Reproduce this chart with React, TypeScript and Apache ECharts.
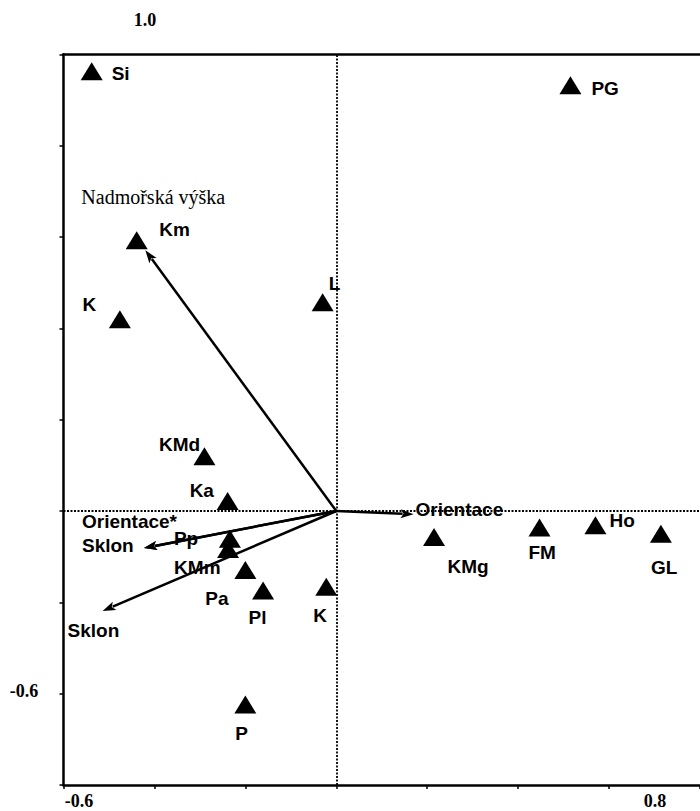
import React, { useEffect, useRef } from "react";
import * as echarts from "echarts";

// Species / site scores (triangles)
const siteNames = ["Si", "PG", "Km", "K", "L", "KMd", "Ka", "Pp", "KMm", "Pa", "Pl", "K", "P", "KMg", "FM", "Ho", "GL"];
const siteX = [-0.538, 0.515, -0.439, -0.476, -0.03, -0.29, -0.239, -0.234, -0.238, -0.2, -0.161, -0.022, -0.2, 0.215, 0.447, 0.57, 0.714];
const siteY = [0.963, 0.932, 0.593, 0.42, 0.457, 0.12, 0.022, -0.061, -0.083, -0.129, -0.174, -0.166, -0.424, -0.057, -0.036, -0.031, -0.05];
// label placement (pixels from the triangle centre to the label's left / middle)
const siteLabelOffsets = [[20, 2], [21, 3], [22.5, -11], [-37.5, -15], [6, -19], [-45.5, -12], [-38, -10], [-56, 0], [-54, 19], [-40, 29], [-14.5, 27.5], [-13, 29], [-10, 29], [13.5, 29], [-11, 25.5], [14, -5], [-10, 34]];

// Environmental variables (arrows from the origin)
const envNames = ["Nadmořská výška", "Orientace", "Orientace*", "Sklon", "Sklon"];
const envX = [-0.42, 0.17, -0.423, -0.423, -0.514];
const envY = [0.571, -0.007, -0.081, -0.081, -0.219];
const envLabelOffsets = [[-64, -53], [2, -5], [-62, -26], [-62, -2], [-35, 19]];
const envLabelSerif = [true, false, false, false, false];

// Axes
const xMin = -0.6, xMax = 0.8, yMin = -0.6, yMax = 1.0, tickStep = 0.2;
const cornerLabels = ["1.0", "-0.6", "-0.6", "0.8"];
const cornerLabelPos = [[145, 20], [24, 691], [79, 801], [655, 801]];

const SANS = '"Liberation Sans", Arial, sans-serif';
const SERIF = '"Liberation Serif", "Times New Roman", serif';

export default function App() {
  const ref = useRef<HTMLDivElement>(null);
  useEffect(() => {
    if (!ref.current) return;
    const chart = echarts.init(ref.current, null, { renderer: "svg" });
    const axisLine = { show: true, onZero: false, lineStyle: { color: "#000", width: 2.5 } };
    const option: any = {
      animation: false,
      backgroundColor: "#fff",
      grid: { left: 63.5, top: 54.3, right: -4.3, bottom: 26 },
      xAxis: [
        {
          type: "value", min: xMin, max: xMax, interval: tickStep, position: "bottom",
          axisLine, axisTick: { show: true, length: 4, lineStyle: { color: "#000", width: 1.5 } },
          axisLabel: { show: false }, splitLine: { show: false },
        },
        {
          type: "value", min: xMin, max: xMax, interval: tickStep, position: "top",
          axisLine, axisTick: { show: false }, axisLabel: { show: false }, splitLine: { show: false },
        },
      ],
      yAxis: [
        {
          type: "value", min: yMin, max: yMax, interval: tickStep, position: "left",
          axisLine, axisTick: { show: true, length: 4, lineStyle: { color: "#000", width: 1.5 } },
          axisLabel: { show: false }, splitLine: { show: false },
        },
      ],
      graphic: cornerLabels.map((t, i) => ({
        type: "text",
        x: cornerLabelPos[i][0],
        y: cornerLabelPos[i][1],
        style: {
          text: t, fill: "#000", align: "center", verticalAlign: "middle",
          font: `bold 18px ${SERIF}`,
        },
      })),
      series: [
        {
          type: "custom",
          coordinateSystem: "cartesian2d",
          z: 2,
          silent: true,
          data: envX.map((x, i) => [x, envY[i]]),
          renderItem: (params: any, api: any) => {
            const i = params.dataIndex;
            const o = api.coord([0, 0]);
            const p = api.coord([api.value(0), api.value(1)]);
            const dx = p[0] - o[0], dy = p[1] - o[1];
            const len = Math.hypot(dx, dy) || 1;
            const ux = dx / len, uy = dy / len;
            const hl = 13, hw = 4.5;
            const bx = p[0] - ux * hl, by = p[1] - uy * hl;
            const off = envLabelOffsets[i];
            return {
              type: "group",
              children: [
                { type: "line", shape: { x1: o[0], y1: o[1], x2: bx + ux * 2, y2: by + uy * 2 }, style: { stroke: "#000", lineWidth: 2.5 } },
                {
                  type: "polygon",
                  shape: { points: [[p[0], p[1]], [bx - uy * hw, by + ux * hw], [bx + ux * 3, by + uy * 3], [bx + uy * hw, by - ux * hw]] },
                  style: { fill: "#000" },
                },
                {
                  type: "text",
                  x: p[0] + off[0], y: p[1] + off[1],
                  style: {
                    text: envNames[i], fill: "#000", align: "left", verticalAlign: "middle",
                    font: envLabelSerif[i] ? `20px ${SERIF}` : `bold 19px ${SANS}`,
                  },
                },
              ],
            };
          },
        },
        {
          type: "scatter",
          z: 3,
          symbol: "triangle",
          symbolSize: [22, 18],
          itemStyle: { color: "#000", opacity: 1 },
          data: siteNames.map((n, i) => ({
            name: n,
            value: [siteX[i], siteY[i]],
            label: { offset: siteLabelOffsets[i] },
          })),
          label: {
            show: true, position: "inside", align: "left", verticalAlign: "middle",
            formatter: (p: any) => p.name, color: "#000", fontSize: 19, fontWeight: "bold", fontFamily: SANS,
          },
          markLine: {
            silent: true, symbol: "none", animation: false,
            label: { show: false },
            lineStyle: { color: "#000", type: [2, 1.5], width: 1.8, opacity: 1 },
            data: [{ xAxis: 0 }, { yAxis: 0 }],
          },
        },
      ],
    };
    chart.setOption(option);
    return () => chart.dispose();
  }, []);
  return <div ref={ref} style={{ position: "absolute", left: 0, top: 0, width: 700, height: 811 }} />;
}
